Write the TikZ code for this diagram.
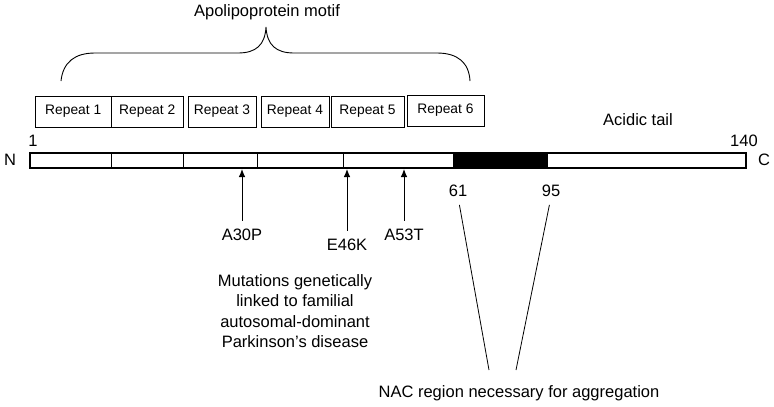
\documentclass[tikz,border=0pt]{standalone}
\usepackage{fontspec}
\setmainfont{Liberation Sans}
\usetikzlibrary{arrows.meta}
\begin{document}
\begin{tikzpicture}[x=1pt,y=-1pt,
    repeatbox/.style={draw,line width=1pt,minimum height=31pt,inner sep=0pt,
      font=\fontsize{13.8}{16}\selectfont},
    lbl/.style={inner sep=0pt,font=\fontsize{16.5}{20.5}\selectfont},
    mutarrow/.style={-{Latex[length=8pt,width=6.5pt]},line width=0.9pt}]
    \useasboundingbox (0,0) rectangle (774,407);
    % brace over the repeats
    \draw[line width=0.9pt] (61,81) .. controls (63,62) and (75,53) .. (95,53) -- (238,53)
        .. controls (256,53) and (265,45) .. (266,27)
        .. controls (267,45) and (276,53) .. (294,53) -- (437,53)
        .. controls (457,53) and (469,62) .. (470,81);
    \node[lbl] (motif) at (267,12) {Apolipoprotein motif};
    % repeats
    \node[repeatbox,minimum width=76.5pt] (r1) at (73.25,111.5) {Repeat 1};
    \node[repeatbox,minimum width=71.5pt] (r2) at (147.25,111.5) {Repeat 2};
    \node[repeatbox,minimum width=68pt] (r3) at (222,111.5) {Repeat 3};
    \node[repeatbox,minimum width=68pt] (r4) at (295,111.5) {Repeat 4};
    \node[repeatbox,minimum width=73pt] (r5) at (367.5,111.5) {Repeat 5};
    \node[repeatbox,minimum width=77pt] (r6) at (445.5,110.5) {Repeat 6};
    % the chain
    \fill (453,153) rectangle (548,168);
    \draw[line width=0.9pt] (111,153) -- (111,168);
    \draw[line width=0.9pt] (183,153) -- (183,168);
    \draw[line width=0.9pt] (257,153) -- (257,168);
    \draw[line width=0.9pt] (343,153) -- (343,168);
    \node[draw,line width=2pt,minimum width=716pt,minimum height=15pt,inner sep=0pt] (bar) at (388,160.5) {};
    \node[lbl] (nterm) at (10,160) {N};
    \node[lbl] (cterm) at (764,160) {C};
    \node[lbl] (first) at (33,141) {1};
    \node[lbl] (last) at (744,141) {140};
    \node[lbl] (tail) at (638,120) {Acidic tail};
    % mutations
    \coordinate (m30) at (242,169);
    \coordinate (m46) at (347,169);
    \coordinate (m53) at (404,169);
    \node[lbl] (a30p) at (242,235) {A30P};
    \node[lbl] (e46k) at (347,245) {E46K};
    \node[lbl] (a53t) at (404,235) {A53T};
    \draw[mutarrow] ([yshift=8pt]a30p.north) -- (m30);
    \draw[mutarrow] ([yshift=8pt]e46k.north) -- (m46);
    \draw[mutarrow] ([yshift=8pt]a53t.north) -- (m53);
    \node[lbl,align=center] (muts) at (295,311) {Mutations genetically\\linked to familial\\autosomal-dominant\\Parkinson’s disease};
    % NAC region
    \node[lbl] (n61) at (458,191) {61};
    \node[lbl] (n95) at (551,191) {95};
    \coordinate (nacL) at (489,370);
    \coordinate (nacR) at (516,370);
    \node[lbl] (nac) at (519,393) {NAC region necessary for aggregation};
    \draw[line width=0.8pt,shorten <=8pt] (n61.south) -- (nacL);
    \draw[line width=0.8pt,shorten <=8pt] (n95.south) -- (nacR);
\end{tikzpicture}
\end{document}
